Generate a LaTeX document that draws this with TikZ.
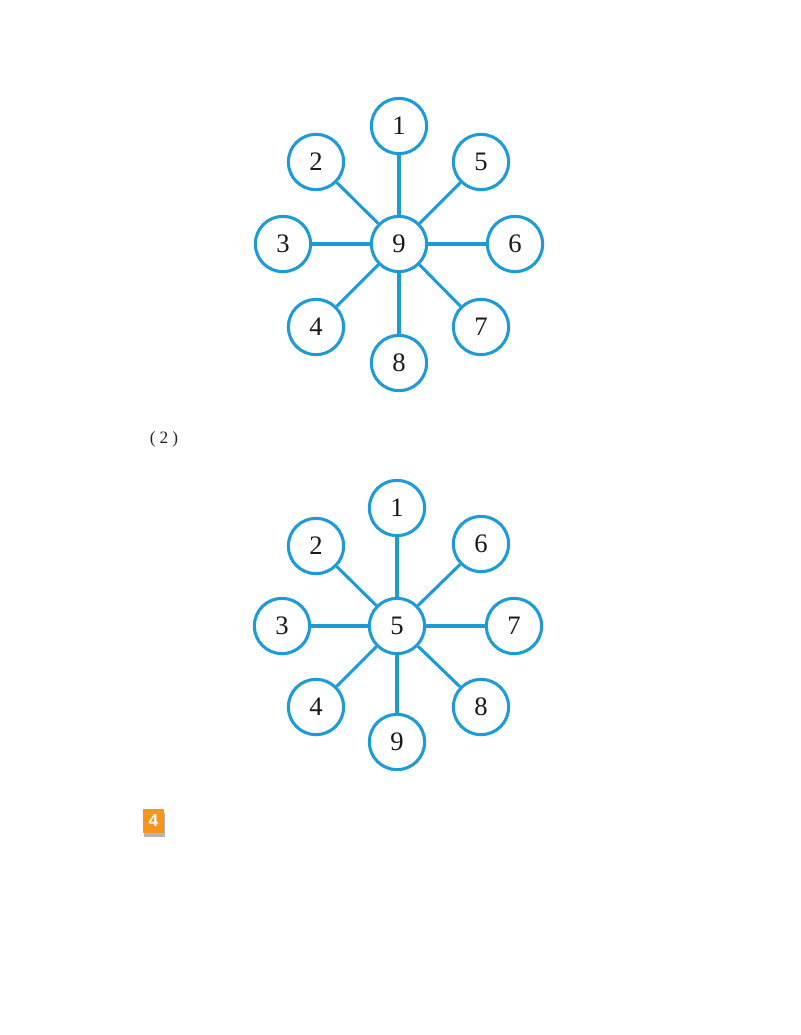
\documentclass[tikz,border=0pt]{standalone}
\usepackage{fontspec}
\setmainfont{Liberation Serif}
\newfontfamily\badgefont{Liberation Sans}
\definecolor{ringblue}{RGB}{29,155,215}
\definecolor{badgeorange}{RGB}{247,148,30}
\definecolor{badgeshadow}{RGB}{120,120,120}
\tikzset{
  ring/.style={circle, draw=ringblue, line width=2.3pt, fill=white, minimum size=41.5pt, inner sep=0pt,
    font=\fontsize{20}{20}\selectfont, text=black!90},
  spoke/.style={draw=ringblue, line width=2.3pt},
  badge/.style={fill=badgeorange, minimum width=16pt, minimum height=18pt, inner sep=0pt,
    font=\badgefont\bfseries\fontsize{13}{13}\selectfont, text=white},
  badgeshade/.style={fill=badgeshadow, opacity=0.55, minimum width=16pt, minimum height=18pt, inner sep=0pt},
  label2/.style={font=\fontsize{13}{13}\selectfont, inner sep=0pt, text=black!85}
}
\begin{document}
\begin{tikzpicture}[x=0.75pt, y=-0.75pt]
\useasboundingbox (0,0) rectangle (800,1035);
% ---- top star ----
\begin{scope}[shift={(399,244)}]
  \node[ring] (tc) at (0,0) {9};
  \node[ring] (t1) at (0,-118) {1};
  \node[ring] (t2) at (-83,-82) {2};
  \node[ring] (t3) at (-116,0) {3};
  \node[ring] (t4) at (-83,83) {4};
  \node[ring] (t8) at (0,119) {8};
  \node[ring] (t7) at (82,83) {7};
  \node[ring] (t6) at (116,0) {6};
  \node[ring] (t5) at (82,-82) {5};
  \foreach \n in {t1,t2,t3,t4,t5,t6,t7,t8} \path[spoke] (tc) -- (\n);
\end{scope}
% ---- label ----
\node[label2] (lab) at (164,439) {(\kern3pt2\kern3pt)};
% ---- bottom star ----
\begin{scope}[shift={(397,626)}]
  \node[ring] (bc) at (0,0) {5};
  \node[ring] (b1) at (0,-118) {1};
  \node[ring] (b2) at (-81,-80) {2};
  \node[ring] (b3) at (-115,0) {3};
  \node[ring] (b4) at (-81,81) {4};
  \node[ring] (b9) at (0,116) {9};
  \node[ring] (b8) at (84,81) {8};
  \node[ring] (b7) at (117,0) {7};
  \node[ring] (b6) at (84,-82) {6};
  \foreach \n in {b1,b2,b3,b4,b6,b7,b8,b9} \path[spoke] (bc) -- (\n);
\end{scope}
% ---- badge ----
\node[badgeshade] (bs) at (154.5,824.5) {};
\node[badge] (bd) at (153.5,821) {4};
\end{tikzpicture}
\end{document}
